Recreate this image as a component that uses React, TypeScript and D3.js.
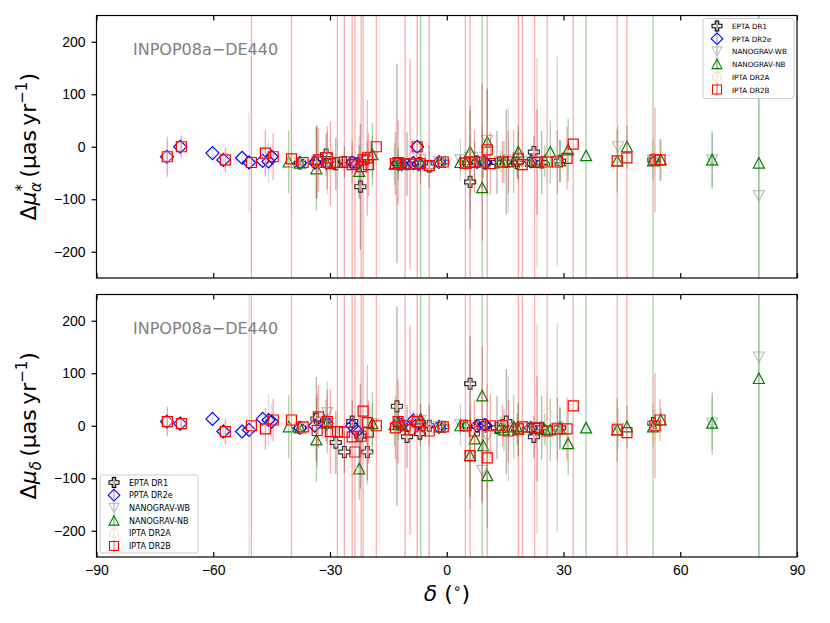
import { useEffect, useRef } from 'react'
import * as d3 from 'd3'

// each row: declination (deg), d-mu-alpha*, err, d-mu-delta, err  (uas/yr)
type Row = [number, number, number, number, number]

const eptaDR1: Row[] = [
  [-37.7, -31, 8, -4, 8],
  [-33.5, -30, 68, 13, 80],
  [-31.0, -15, 40, 10, 40],
  [-28.5, -33, 50, -32, 60],
  [-26.3, -29, 30, -50, 40],
  [-24.3, -30, 40, 8, 40],
  [-22.2, -76, 120, -20, 100],
  [-20.4, -21, 30, -50, 60],
  [-12.8, -32, 190, 37, 190],
  [-10.2, -33, 60, -21, 60],
  [-6.9, -31, 15, -15, 15],
  [-4.5, -38, 40, 0, 40],
  [-0.9, -29, 10, -2, 10],
  [4.8, -31, 10, 0, 10],
  [6.0, -67, 90, 80, 90],
  [7.8, -29, 5, -1, 5],
  [9.7, -30, 8, 2, 8],
  [12.9, -30, 60, -4, 60],
  [15.3, -29, 100, 8, 100],
  [18.1, -31, 30, -6, 30],
  [22.4, -10, 30, -21, 40],
  [24.4, -30, 60, -4, 60],
  [29.1, -27, 40, -4, 40],
  [53.1, -25, 10, 5, 10],
]

const pptaDR2e: Row[] = [
  [-71.9, -19, 8, 8, 8],
  [-68.5, 0, 8, 4, 8],
  [-60.2, -12, 11, 13, 14],
  [-57.4, -25, 10, -11, 10],
  [-52.6, -21, 8, -11, 8],
  [-50.8, -30, 95, -8, 400],
  [-47.3, -27, 8, 13, 8],
  [-45.8, -28, 40, 11, 49],
  [-45.0, -19, 20, 8, 33],
  [-37.7, -31, 5, -4, 5],
  [-33.9, -30, 15, 0, 15],
  [-30.9, -30, 10, 5, 10],
  [-24.3, -30, 20, 0, 20],
  [-23.1, -33, 8, -10, 8],
  [-12.4, -33, 20, 4, 20],
  [-11.6, -33, 6, 2, 6],
  [-8.6, -31, 20, 10, 20],
  [-7.6, 0, 8, 8, 8],
  [-7.3, -33, 8, 5, 8],
  [-2.0, -29, 8, -2, 8],
  [7.8, -29, 4, 0, 4],
  [9.7, -30, 8, 1, 8],
  [10.0, -31, 10, 0, 10],
  [21.6, -28, 8, -4, 8],
]

const nanogravWB: Row[] = [
  [-37.7, -31, 5, -4, 5],
  [-30.7, -30, 60, 25, 60],
  [-22.5, -40, 60, -20, 60],
  [-19.1, -20, 40, 4, 40],
  [-11.6, -31, 8, 2, 8],
  [-6.7, -25, 30, 10, 30],
  [-2.0, -28, 10, -1, 10],
  [3.5, -25, 40, 2, 40],
  [6.0, -20, 100, -60, 100],
  [9.1, -20, 60, -85, 60],
  [10.4, 12, 100, -20, 100],
  [13.8, -28, 20, -2, 20],
  [15.8, -25, 100, -5, 100],
  [18.4, -20, 50, -5, 50],
  [21.6, -28, 5, -2, 5],
  [23.2, -30, 200, -5, 200],
  [28.4, -28, 200, -4, 200],
  [44.0, 0, 40, -5, 40],
  [53.0, -25, 40, 0, 40],
  [68.2, -25, 50, 5, 50],
  [80.2, -93, 400, 131, 400],
]

const nanogravNB: Row[] = [
  [-40.6, -29, 60, -2, 60],
  [-37.7, -31, 5, -4, 5],
  [-33.5, -42, 80, -27, 80],
  [-30.9, -30, 15, 5, 15],
  [-22.5, -47, 50, -82, 60],
  [-19.1, -15, 60, 4, 60],
  [-13.4, -33, 40, 2, 40],
  [-12.4, -33, 30, 3, 30],
  [-11.6, -33, 6, 2, 6],
  [-6.7, -31, 400, 13, 400],
  [-2.0, -29, 10, -2, 10],
  [3.5, -30, 15, 0, 15],
  [4.9, -31, 8, 1, 8],
  [6.0, -10, 80, -57, 80],
  [7.2, -30, 40, -25, 40],
  [9.1, -78, 400, 57, 400],
  [9.4, -29, 30, -38, 30],
  [10.4, 9, 100, -95, 100],
  [13.8, -29, 10, -3, 10],
  [14.7, -29, 40, -8, 40],
  [17.2, -28, 60, -2, 60],
  [18.4, -10, 50, -8, 50],
  [21.6, -28, 5, -3, 5],
  [25.2, -27, 30, -7, 30],
  [26.6, -10, 60, -8, 60],
  [29.1, -27, 40, -6, 40],
  [31.2, -6, 60, -34, 60],
  [35.8, -17, 400, -4, 400],
  [43.8, -27, 60, -8, 60],
  [46.3, 0, 40, -2, 40],
  [53.0, -27, 400, -2, 400],
  [55.0, -25, 40, 11, 22],
  [68.2, -25, 55, 5, 60],
  [80.2, -31, 400, 90, 400],
]

const iptaDR2A: Row[] = [
  [-71.8, -19, 30, 8, 25],
  [-68.2, 0, 20, 4, 14],
  [-56.9, -25, 20, -11, 20],
  [-50.2, -30, 200, 0, 200],
  [-46.6, -12, 40, -6, 30],
  [-39.9, -28, 100, 11, 100],
  [-36.9, -31, 5, -4, 5],
  [-33.3, -29, 30, 10, 30],
  [-30.7, -22, 40, 8, 40],
  [-28.1, -32, 40, -11, 40],
  [-24.3, -34, 60, -85, 60],
  [-20.4, -21, 40, -55, 60],
  [-13.2, -32, 80, -4, 80],
  [-7.6, -5, 20, 8, 20],
  [-4.5, -34, 40, -5, 40],
  [-0.9, -29, 8, -2, 8],
  [4.8, -31, 8, 0, 8],
  [6.0, -28, 60, -5, 60],
  [9.1, -30, 15, 2, 15],
  [10.4, -6, 60, -55, 60],
  [14.3, -29, 20, -2, 20],
  [19.4, -34, 40, -10, 40],
  [25.8, -29, 40, 23, 40],
  [28.4, -29, 30, -6, 30],
  [43.8, -27, 60, -8, 60],
  [53.5, -25, 30, 2, 30],
]

const iptaDR2B: Row[] = [
  [-71.8, -19, 38, 8, 28],
  [-68.2, 0, 22, 4, 14],
  [-56.9, -25, 23, -11, 24],
  [-50.2, -30, 500, 0, 500],
  [-46.6, -12, 45, -6, 40],
  [-44.6, -19, 45, 11, 40],
  [-39.9, -23, 500, 11, 500],
  [-36.9, -30, 6, -2, 6],
  [-33.3, -29, 70, -9, 70],
  [-33.0, -25, 60, 17, 60],
  [-30.7, -21, 60, 8, 60],
  [-29.9, -32, 80, -11, 80],
  [-28.1, -30, 500, -11, 500],
  [-26.3, -29, 500, -12, 500],
  [-24.3, -34, 500, -21, 500],
  [-23.6, -30, 500, -50, 500],
  [-22.0, -38, 500, -20, 500],
  [-21.5, -25, 500, 28, 500],
  [-20.4, -21, 110, 6, 110],
  [-20.1, -34, 60, -12, 60],
  [-18.1, 0, 500, 0, 500],
  [-13.2, -32, 60, -4, 60],
  [-12.5, -30, 80, 8, 80],
  [-10.7, -33, 500, 0, 500],
  [-9.4, -33, 200, -8, 200],
  [-7.6, 0, 500, 8, 500],
  [-6.8, -32, 40, 1, 40],
  [-4.5, -36, 500, -10, 500],
  [-0.9, -29, 10, -2, 10],
  [4.8, -31, 500, 0, 500],
  [6.0, -29, 500, -57, 500],
  [7.1, -29, 60, -10, 60],
  [9.1, -29, 150, 2, 150],
  [10.4, -6, 500, -61, 500],
  [11.2, -32, 60, 0, 60],
  [14.3, -29, 40, 0, 40],
  [15.8, -29, 60, -10, 60],
  [18.4, -23, 500, -6, 500],
  [19.4, -34, 500, -2, 500],
  [22.6, -30, 500, -4, 500],
  [23.2, -29, 100, -5, 100],
  [25.8, -29, 500, -10, 500],
  [28.4, -29, 60, -6, 60],
  [30.9, -22, 60, -6, 60],
  [32.5, 5, 500, 38, 500],
  [43.8, -27, 500, -8, 500],
  [46.3, -21, 500, -13, 500],
  [53.5, -25, 100, 0, 100],
  [54.8, -25, 40, 11, 40],
]

const xTicks = [-90, -60, -30, 0, 30, 60, 90]
const yTicks = [-200, -100, 0, 100, 200]
const annotation = 'INPOP08a\u2212DE440'

type MarkerKind = 'plus' | 'diamond' | 'down' | 'up' | 'circle' | 'square'

const datasets: { label: string; rows: Row[]; marker: MarkerKind; color: string; bar: string; barOpacity: number; markerOpacity: number }[] = [
  { label: 'EPTA DR1', rows: eptaDR1, marker: 'plus', color: '#000000', bar: '#000000', barOpacity: 0.3, markerOpacity: 0.8 },
  { label: 'PPTA DR2e', rows: pptaDR2e, marker: 'diamond', color: '#0000ff', bar: '#0000ff', barOpacity: 0.15, markerOpacity: 1 },
  { label: 'NANOGRAV-WB', rows: nanogravWB, marker: 'down', color: '#c0c0c0', bar: '#808080', barOpacity: 0.35, markerOpacity: 1 },
  { label: 'NANOGRAV-NB', rows: nanogravNB, marker: 'up', color: '#008000', bar: '#008000', barOpacity: 0.35, markerOpacity: 1 },
  { label: 'IPTA DR2A', rows: iptaDR2A, marker: 'circle', color: '#fcd5b0', bar: '#fcd5b0', barOpacity: 0.4, markerOpacity: 0.8 },
  { label: 'IPTA DR2B', rows: iptaDR2B, marker: 'square', color: '#ff0000', bar: '#ff0000', barOpacity: 0.33, markerOpacity: 1 },
]

function markerPath(kind: MarkerKind): string {
  const a = 1.9, L = 5.5
  switch (kind) {
    case 'plus':
      return `M${-a},${-L}L${a},${-L}L${a},${-a}L${L},${-a}L${L},${a}L${a},${a}L${a},${L}L${-a},${L}L${-a},${a}L${-L},${a}L${-L},${-a}L${-a},${-a}Z`
    case 'diamond':
      return 'M0,-6.5L6.5,0L0,6.5L-6.5,0Z'
    case 'down':
      return 'M0,5.5L5.5,-5L-5.5,-5Z'
    case 'up':
      return 'M0,-5.5L5.5,5L-5.5,5Z'
    case 'circle':
      return 'M5,0A5,5 0 1,1 -5,0A5,5 0 1,1 5,0Z'
    default:
      return 'M-5,-5H5V5H-5Z'
  }
}

const W = 830
const H = 623
const panels = [
  { top: 15.5, bottom: 278, sub: '\u03b1', star: true, legend: { x: 703, y: 18.5, w: 91, h: 80 } },
  { top: 294.5, bottom: 557, sub: '\u03b4', star: false, legend: { x: 100, y: 475, w: 98, h: 78 } },
]

export default function App() {
  const svgRef = useRef<SVGSVGElement>(null)

  useEffect(() => {
    if (!svgRef.current) return
    const svg = d3.select(svgRef.current)
    svg.selectAll('*').remove()
    const font = '"DejaVu Sans", sans-serif'

    const x = d3.scaleLinear().domain([-90, 90]).range([96.5, 797])
    const defs = svg.append('defs')

    panels.forEach((p, pi) => {
      const y = d3.scaleLinear().domain([-250, 250]).range([p.bottom, p.top])
      const clipId = `panel-clip-${pi}`
      defs.append('clipPath').attr('id', clipId)
        .append('rect').attr('x', 96.5).attr('y', p.top).attr('width', 797 - 96.5).attr('height', p.bottom - p.top)

      const g = svg.append('g').attr('clip-path', `url(#${clipId})`)
      const vi = pi === 0 ? 1 : 3

      datasets.forEach(ds => {
        g.append('g').selectAll('line').data(ds.rows).join('line')
          .attr('x1', d => x(d[0])).attr('x2', d => x(d[0]))
          .attr('y1', d => y(d[vi] - d[vi + 1])).attr('y2', d => y(d[vi] + d[vi + 1]))
          .attr('stroke', ds.bar).attr('stroke-opacity', ds.barOpacity).attr('stroke-width', 1.3)
        g.append('g').selectAll('path').data(ds.rows).join('path')
          .attr('transform', d => `translate(${x(d[0])},${y(d[vi])})`)
          .attr('d', markerPath(ds.marker))
          .attr('fill', 'none')
          .attr('stroke', ds.color).attr('stroke-width', 1.2).attr('stroke-opacity', ds.markerOpacity)
      })

      // annotation
      svg.append('text').attr('x', 133).attr('y', p.top + 39)
        .attr('font-family', font).attr('font-size', 16).attr('fill', '#808080')
        .text(annotation)

      // axes
      const ax = svg.append('g').attr('font-family', font)
      ax.append('g').attr('transform', `translate(0,${p.bottom})`)
        .call(d3.axisBottom(x).tickValues(xTicks).tickSizeInner(-5).tickSizeOuter(0).tickPadding(8)
          .tickFormat(pi === 1 ? d3.format('') : () => ''))
        .call(a => a.select('.domain').remove())
        .call(a => a.selectAll('.tick line').attr('stroke', '#000').attr('stroke-width', 1.2))
        .call(a => a.selectAll('.tick text').attr('fill', '#000').attr('font-size', 14))
      ax.append('g').attr('transform', `translate(0,${p.top})`)
        .call(d3.axisTop(x).tickValues(xTicks).tickSizeInner(-5).tickSizeOuter(0).tickFormat(() => ''))
        .call(a => a.select('.domain').remove())
        .call(a => a.selectAll('.tick line').attr('stroke', '#000').attr('stroke-width', 1.2))
      ax.append('g').attr('transform', 'translate(96.5,0)')
        .call(d3.axisLeft(y).tickValues(yTicks).tickSizeInner(5).tickSizeOuter(0).tickPadding(6).tickFormat(d3.format('')))
        .call(a => a.select('.domain').remove())
        .call(a => a.selectAll('.tick line').attr('stroke', '#000').attr('stroke-width', 1.2))
        .call(a => a.selectAll('.tick text').attr('fill', '#000').attr('font-size', 14))

      svg.append('rect').attr('x', 96.5).attr('y', p.top).attr('width', 797 - 96.5).attr('height', p.bottom - p.top)
        .attr('fill', 'none').attr('stroke', '#000').attr('stroke-width', 1.2)

      // y label
      const cy = (p.top + p.bottom) / 2
      const yl = svg.append('text')
        .attr('transform', `translate(36,${cy}) rotate(-90)`)
        .attr('text-anchor', 'middle').attr('font-family', font).attr('font-size', 22).attr('fill', '#000')
      yl.append('tspan').text('\u0394')
      yl.append('tspan').attr('font-style', 'italic').text('\u03bc')
      if (p.star) {
        yl.append('tspan').attr('font-size', 15).attr('dy', -9).text('*')
        yl.append('tspan').attr('font-size', 15).attr('font-style', 'italic').attr('dx', -8).attr('dy', 14).text(p.sub)
        yl.append('tspan').attr('dy', -5).text('\u2009(\u03bcas\u2009yr')
      } else {
        yl.append('tspan').attr('font-size', 15).attr('font-style', 'italic').attr('dy', 5).text(p.sub)
        yl.append('tspan').attr('dy', -5).text('\u2009(\u03bcas\u2009yr')
      }
      yl.append('tspan').attr('font-size', 15).attr('dy', -9).text('\u22121')
      yl.append('tspan').attr('dy', 9).text(')')

      // legend
      const lg = svg.append('g').attr('transform', `translate(${p.legend.x},${p.legend.y})`)
      lg.append('rect').attr('width', p.legend.w).attr('height', p.legend.h).attr('rx', 2.5)
        .attr('fill', '#fff').attr('fill-opacity', 0.85).attr('stroke', '#cccccc').attr('stroke-width', 1)
      datasets.forEach((ds, i) => {
        const ry = 7.5 + i * 12.7
        const row = lg.append('g').attr('transform', `translate(14,${ry})`)
        row.append('line').attr('x1', 0).attr('x2', 0).attr('y1', -6).attr('y2', 6)
          .attr('stroke', ds.bar).attr('stroke-opacity', ds.barOpacity + 0.2).attr('stroke-width', 1.3)
        row.append('path').attr('d', markerPath(ds.marker)).attr('transform', 'scale(0.9)')
          .attr('fill', 'none').attr('stroke', ds.color).attr('stroke-width', 1.2)
        row.append('text').attr('x', 15).attr('y', 3).attr('font-family', font)
          .attr('font-size', pi === 0 ? 7.2 : 8).attr('fill', '#000').text(ds.label)
      })
    })

    // x label
    const xl = svg.append('text').attr('x', 447).attr('y', 601).attr('text-anchor', 'middle')
      .attr('font-family', font).attr('font-size', 22).attr('fill', '#000')
    xl.append('tspan').attr('font-style', 'italic').text('\u03b4')
    xl.append('tspan').text(' (')
    xl.append('tspan').attr('font-size', 14).attr('dy', -8).text('\u2218')
    xl.append('tspan').attr('dy', 8).text(')')
  }, [])

  return (
    <svg ref={svgRef} width={W} height={H}
      style={{ position: 'absolute', left: 0, top: 0, background: '#fff' }} />
  )
}
